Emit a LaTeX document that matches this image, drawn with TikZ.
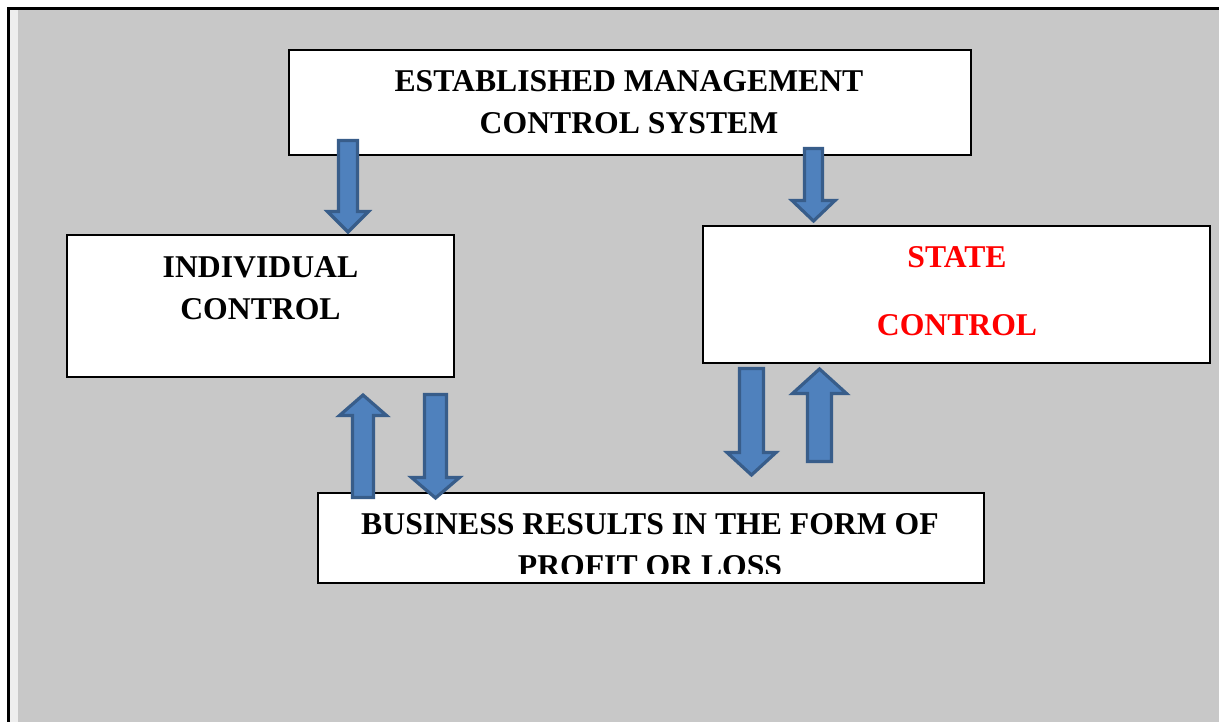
\documentclass[tikz,border=0pt]{standalone}
\usepackage{fontspec}
\setmainfont{Liberation Serif}
\definecolor{bggray}{HTML}{C8C8C8}
\definecolor{striplight}{HTML}{EEEEEE}
\definecolor{arrowfill}{HTML}{4F81BD}
\definecolor{arrowline}{HTML}{385D8A}
\definecolor{statered}{HTML}{FF0000}
\tikzset{
  box/.style={draw=black, line width=1.8pt, fill=white, rectangle, inner sep=0pt},
  txt/.style={font=\bfseries\fontsize{31.7}{42}\selectfont, align=center, inner sep=0pt, anchor=north},
  blockarrow/.style={fill=arrowfill, draw=arrowline, line width=3.2pt, line join=miter},
}
% center x, tail y, head-base y, tip y, shaft half width, head half width
\newcommand\myarrow[6]{%
  \draw[blockarrow] (#1-#5,#2) -- (#1+#5,#2) -- (#1+#5,#3) -- (#1+#6,#3) -- (#1,#4)
     -- (#1-#6,#3) -- (#1-#5,#3) -- cycle;}
\begin{document}
\begin{tikzpicture}[x=1pt,y=-1pt]
\useasboundingbox (0,0) rectangle (1219,722);
% page background and frame
\fill[white] (0,0) rectangle (1219,722);
\fill[bggray] (18,10) rectangle (1219,722);
\fill[striplight] (10,10) rectangle (18,722);
\fill[black] (7,7.5) rectangle (1219,10.5);
\fill[black] (6.5,7.5) rectangle (9.5,722);
% boxes
\node[box, minimum width=682pt, minimum height=105pt] (mgmt) at (630,102.5) {};
\node[box, minimum width=387pt, minimum height=142pt] (indiv) at (260.5,306) {};
\node[box, minimum width=507pt, minimum height=137pt] (state) at (956.5,294.5) {};
\node[box, minimum width=666pt, minimum height=90pt] (biz) at (651,538) {};
% texts
\node[txt] (mgmttxt) at (629,70) {ESTABLISHED MANAGEMENT\\CONTROL SYSTEM};
\node[txt] (indivtxt) at (260.5,256) {INDIVIDUAL\\CONTROL};
\node[txt, text=statered] (statetxt) at (957,246) {STATE\\[26pt]CONTROL};
\begin{scope}
  \clip (320,495) rectangle (983,573);
  \node[txt] (biztxt) at (650,513) {BUSINESS RESULTS IN THE FORM OF\\PROFIT OR LOSS};
\end{scope}
% block arrows
\myarrow{348}{140.5}{211.5}{232}{9.5}{20.5}
\myarrow{813.5}{148.5}{200.5}{221}{9}{21.5}
\myarrow{363}{497.5}{415.5}{395}{10.5}{23.5}
\myarrow{435.5}{394.5}{477.5}{498}{11}{24}
\myarrow{751.5}{368.5}{452.5}{475}{12}{24.5}
\myarrow{819.5}{461.5}{393.5}{369}{12}{27}
\end{tikzpicture}
\end{document}
